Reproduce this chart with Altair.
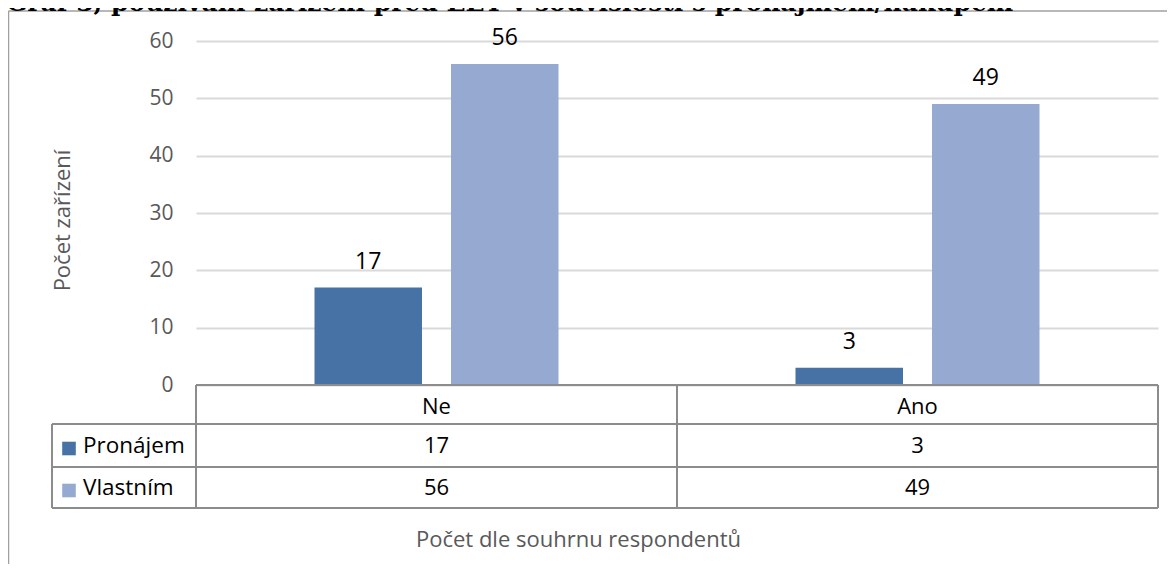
import altair as alt
import pandas as pd

# ---- data ----
categories = ["Ne", "Ano"]
series = ["Pronájem", "Vlastním"]
pronajem = [17, 3]
vlastnim = [56, 49]
y_ticks = [0, 10, 20, 30, 40, 50, 60]
colors = ["#4672A6", "#96AAD1"]

title_text = "Graf 3, používání zařízení před EET v souvislosti s pronájmem/nákupem"
y_title = "Počet zařízení"
x_title = "Počet dle souhrnu respondentů"

rows = []
for s, vals in zip(series, [pronajem, vlastnim]):
    for c, v in zip(categories, vals):
        rows.append({"kategorie": c, "serie": s, "hodnota": v})
df = pd.DataFrame(rows)

# ---- layout (pixels, relative to plot area) ----
W, H = 962, 344
FONT = "Open Sans"
GRAY_LINE = "#8c8c8c"
header_bottom = 383
row1_bottom = 426
row2_bottom = 467
label_col_left = -144
row_centers = [(header_bottom + row1_bottom) / 2, (row1_bottom + row2_bottom) / 2]

x_enc = alt.X(
    "kategorie:N",
    sort=categories,
    scale=alt.Scale(paddingInner=0, paddingOuter=0),
    axis=alt.Axis(
        title=x_title,
        labelAngle=0,
        ticks=False,
        domain=False,
        labelPadding=21,
        labelBaseline="middle",
        labelFontSize=22,
        labelColor="#000000",
        labelFont=FONT,
        titleFont=FONT,
        titleFontSize=22,
        titleFontWeight="normal",
        titleColor="#595959",
        titleX=382,
        titleY=154,
        titleAlign="center",
        titleBaseline="middle",
    ),
)
xoff_enc = alt.XOffset(
    "serie:N", sort=series, scale=alt.Scale(paddingInner=0.2125, paddingOuter=0.868)
)
y_enc = alt.Y(
    "hodnota:Q",
    scale=alt.Scale(domain=[0, 60], nice=False),
    axis=alt.Axis(
        values=y_ticks,
        title=y_title,
        grid=True,
        gridColor="#d9d9d9",
        gridWidth=2,
        ticks=False,
        domain=False,
        labelPadding=23,
        labelFontSize=21,
        labelColor="#595959",
        labelFont=FONT,
        titleFont=FONT,
        titleFontSize=22,
        titleFontWeight="normal",
        titleColor="#595959",
        titleAngle=-90,
        titleX=-134,
        titleY=179,
        titleAlign="center",
        titleBaseline="middle",
    ),
)
color_enc = alt.Color(
    "serie:N", scale=alt.Scale(domain=series, range=colors), legend=None
)

base = alt.Chart(df)

bars = base.mark_bar().encode(x=x_enc, xOffset=xoff_enc, y=y_enc, color=color_enc)

bar_labels = base.mark_text(
    dy=-19, baseline="alphabetic", fontSize=23, font=FONT, color="#000000"
).encode(x=x_enc, xOffset=xoff_enc, y=y_enc, text="hodnota:Q")

one = alt.Data(values=[{"k": 1}])


def rule(x1, x2, y1, y2, color=GRAY_LINE, width=2):
    return alt.Chart(one).mark_rule(color=color, strokeWidth=width).encode(
        x=alt.value(x1), x2=alt.value(x2), y=alt.value(y1), y2=alt.value(y2)
    )


layers = [bars, bar_labels]

# table values + row labels + legend keys
for i, s in enumerate(series):
    layers.append(
        base.transform_filter(alt.datum.serie == s)
        .mark_text(fontSize=22, font=FONT, baseline="middle", color="#000000")
        .encode(x=x_enc, y=alt.value(row_centers[i]), text="hodnota:Q")
    )
    layers.append(
        alt.Chart(alt.Data(values=[{"serie": s}]))
        .mark_text(fontSize=22.5, font=FONT, baseline="middle", align="left", color="#000000")
        .encode(x=alt.value(-113), y=alt.value(row_centers[i]), text="serie:N")
    )
    layers.append(
        alt.Chart(alt.Data(values=[{"serie": s}]))
        .mark_point(shape="square", filled=True, size=185, opacity=1)
        .encode(x=alt.value(-127), y=alt.value(row_centers[i] + 3), color=alt.value(colors[i]))
    )

# table grid lines
layers += [
    rule(0, W, H, H),
    rule(label_col_left, W, header_bottom, header_bottom),
    rule(label_col_left, W, row1_bottom, row1_bottom),
    rule(label_col_left, W, row2_bottom, row2_bottom),
    rule(label_col_left, label_col_left, header_bottom, row2_bottom),
    rule(0, 0, H, row2_bottom),
    rule(W / 2, W / 2, H, row2_bottom),
    rule(W, W, H, row2_bottom),
    # chart frame
    rule(-187.5, W + 20, -30, -30, color="#a0a0a0", width=1.5),
    rule(-187.5, -187.5, -30, H + 200, color="#a0a0a0", width=1.5),
]

title = alt.Chart(one).mark_text(
    text=title_text,
    font="DejaVu Serif",
    fontWeight="bold",
    fontSize=25,
    align="left",
    baseline="alphabetic",
    color="#000000",
).encode(x=alt.value(-190), y=alt.value(-30))
layers.append(title)

chart = (
    alt.layer(*layers)
    .properties(
        width=W,
        height=H,
        autosize=alt.AutoSizeParams(type="none"),
        padding={"left": 188, "top": 33, "right": 9, "bottom": 179},
    )
    .configure_view(stroke=None)
)

chart.save("out.html", embed_options={"renderer": "svg", "actions": False})
